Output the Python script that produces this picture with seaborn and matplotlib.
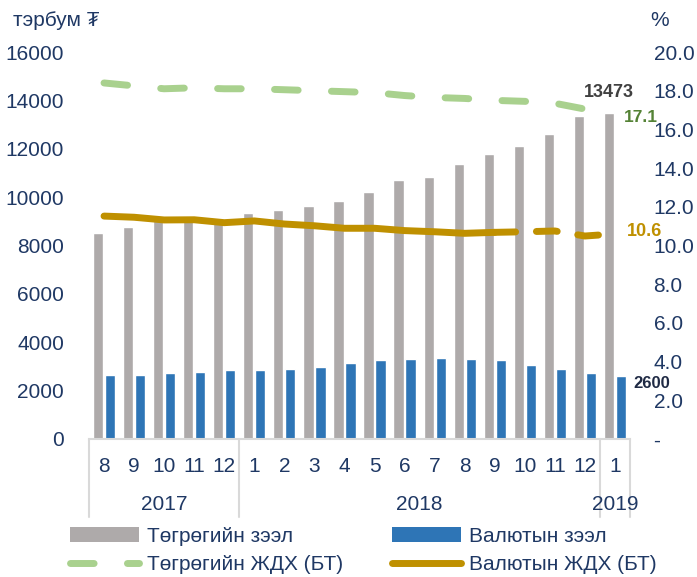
import matplotlib
matplotlib.use("Agg")
import matplotlib.pyplot as plt
import matplotlib.transforms as mtransforms
from matplotlib.patches import Patch
from matplotlib.lines import Line2D
from matplotlib.ticker import FuncFormatter
import seaborn as sns
import pandas as pd
import numpy as np

sns.set_theme(style="white")
plt.rcParams["font.family"] = ["Liberation Sans", "DejaVu Sans"]

# ---- data ----
months = ["8", "9", "10", "11", "12", "1", "2", "3", "4", "5", "6", "7",
          "8", "9", "10", "11", "12", "1"]
years = ["2017", "2018", "2019"]
year_span = [(0, 5), (5, 17), (17, 18)]   # month index range of each year
tug_loan = [8510, 8760, 9050, 9060, 9130, 9340, 9460, 9630, 9840, 10200,
            10700, 10830, 11360, 11780, 12110, 12600, 13350, 13473]
val_loan = [2657, 2630, 2727, 2755, 2850, 2850, 2880, 2990, 3125, 3260,
            3300, 3350, 3300, 3260, 3070, 2890, 2715, 2600]
tug_rate = [18.4, 18.25, 18.1, 18.15, 18.1, 18.1, 18.05, 18.0, 17.95, 17.9,
            17.75, 17.65, 17.6, 17.5, 17.45, 17.35, 17.05, 17.1]
val_rate = [11.52, 11.46, 11.32, 11.33, 11.18, 11.27, 11.11, 11.02, 10.89,
            10.89, 10.77, 10.71, 10.63, 10.68, 10.71, 10.75, 10.49, 10.6]
labels = ["Төгрөгийн зээл", "Валютын зээл", "Төгрөгийн ЖДХ (БТ)", "Валютын ЖДХ (БТ)"]

navy = "#1F3864"
gray = "#AEAAAA"
blue = "#2E75B6"
green = "#A9D18E"
gold = "#BF9000"
axis_gray = "#D9D9D9"

n = len(months)
idx = np.arange(n)
df = pd.DataFrame({
    "idx": np.concatenate([idx, idx]),
    "value": tug_loan + val_loan,
    "series": [labels[0]] * n + [labels[1]] * n,
})

fig = plt.figure(figsize=(6.97, 5.77), dpi=100)
ax = fig.add_axes([89 / 697, 1 - 439 / 577, (630 - 89) / 697, (439 - 52) / 577])

sns.barplot(data=df, x="idx", y="value", hue="series",
            palette=[gray, blue], width=0.8, gap=0.15, ax=ax,
            legend=False, saturation=1)
ax.set_xlim(-0.5, n - 0.5)
ax.set_ylim(0, 16000)
ax.set_yticks(np.arange(0, 16001, 2000))
ax.set_xticks([])
ax.set_xlabel("")
ax.set_ylabel("")
ax.tick_params(axis="y", length=0, pad=18, labelsize=15, labelcolor=navy)
for s in ["top", "left", "right"]:
    ax.spines[s].set_visible(False)
ax.spines["bottom"].set_color(axis_gray)
ax.spines["bottom"].set_linewidth(1.5)

# right axis: rates
ax2 = ax.twinx()
ax2.set_ylim(0, 20)
ax2.set_yticks(np.arange(0, 20.1, 2))
ax2.yaxis.set_major_formatter(FuncFormatter(lambda v, p: "-" if v == 0 else f"{v:.1f}"))
ax2.tick_params(axis="y", length=0, pad=17, labelsize=15, labelcolor=navy)
for s in ["top", "left", "right", "bottom"]:
    ax2.spines[s].set_visible(False)

sns.lineplot(x=idx, y=tug_rate, ax=ax2, color=green, linewidth=5,
             dashes=False, legend=False)
ax2.lines[-1].set_dashes((3.4, 4.8))
ax2.lines[-1].set_dash_capstyle("round")

split = 13
sns.lineplot(x=idx[:split + 1], y=val_rate[:split + 1], ax=ax2, color=gold,
             linewidth=5, legend=False)
ax2.lines[-1].set_solid_capstyle("round")
sns.lineplot(x=idx[split:], y=val_rate[split:], ax=ax2, color=gold,
             linewidth=5, legend=False)
ax2.lines[-1].set_dashes((3, 3))
ax2.lines[-1].set_dash_capstyle("round")

# multi-level category axis
trans = mtransforms.blended_transform_factory(ax.transData, ax.transAxes)
for i, m in enumerate(months):
    ax.text(i, -0.07, m, transform=trans, ha="center", va="center",
            fontsize=15, color=navy)
bounds = [-0.5, 4.5, 16.5, 17.5]
for b in bounds:
    ax.plot([b, b], [0, -0.2016], transform=trans, color=axis_gray,
            linewidth=1.5, clip_on=False)
for y, (a, b) in zip(years, year_span):
    ax.text((a + b - 1) / 2, -0.168, y, transform=trans, ha="center",
            va="center", fontsize=15, color=navy)

# annotations
ax.text(n - 1 - 0.2, tug_loan[-1] + 520, f"{tug_loan[-1]}", ha="center",
        va="bottom", fontsize=13, fontweight="bold", color="#404040")
ax.text(n - 0.5 + 0.1, val_loan[-1] - 320, f"{val_loan[-1]}", ha="left",
        va="center", fontsize=12, fontweight="bold", color="#1F2A44")
ax2.text(n - 0.5 - 0.2, 16.64, f"{tug_rate[-1]:.1f}", ha="left",
         va="center", fontsize=12.5, fontweight="bold", color="#548235")
ax2.text(n - 0.5 - 0.1, val_rate[-1] + 0.1, f"{val_rate[-1]:.1f}", ha="left",
         va="center", fontsize=13, fontweight="bold", color=gold)

# unit labels
fig.text(13 / 697, 1 - 20 / 577, "тэрбум ₮", ha="left", va="center",
         fontsize=15, color=navy)
fig.text(660 / 697, 1 - 20 / 577, "%", ha="center", va="center",
         fontsize=15, color=navy)

handles = [
    Patch(facecolor=gray, edgecolor="none"),
    Line2D([0], [0], color=green, linewidth=5, dashes=(3.4, 4.8),
           dash_capstyle="round"),
    Patch(facecolor=blue, edgecolor="none"),
    Line2D([0], [0], color=gold, linewidth=5, solid_capstyle="round"),
]
leg_labels = [labels[0], labels[2], labels[1], labels[3]]
leg = fig.legend(handles, leg_labels, loc="upper left",
                 bbox_to_anchor=(70 / 697, 1 - 527 / 577), ncol=2,
                 frameon=False, fontsize=15, handlelength=3.3,
                 handleheight=0.7, handletextpad=0.4, columnspacing=2.35,
                 labelspacing=0.45, borderpad=0, borderaxespad=0)
for t in leg.get_texts():
    t.set_color(navy)

fig.savefig("out.png", dpi=100)
